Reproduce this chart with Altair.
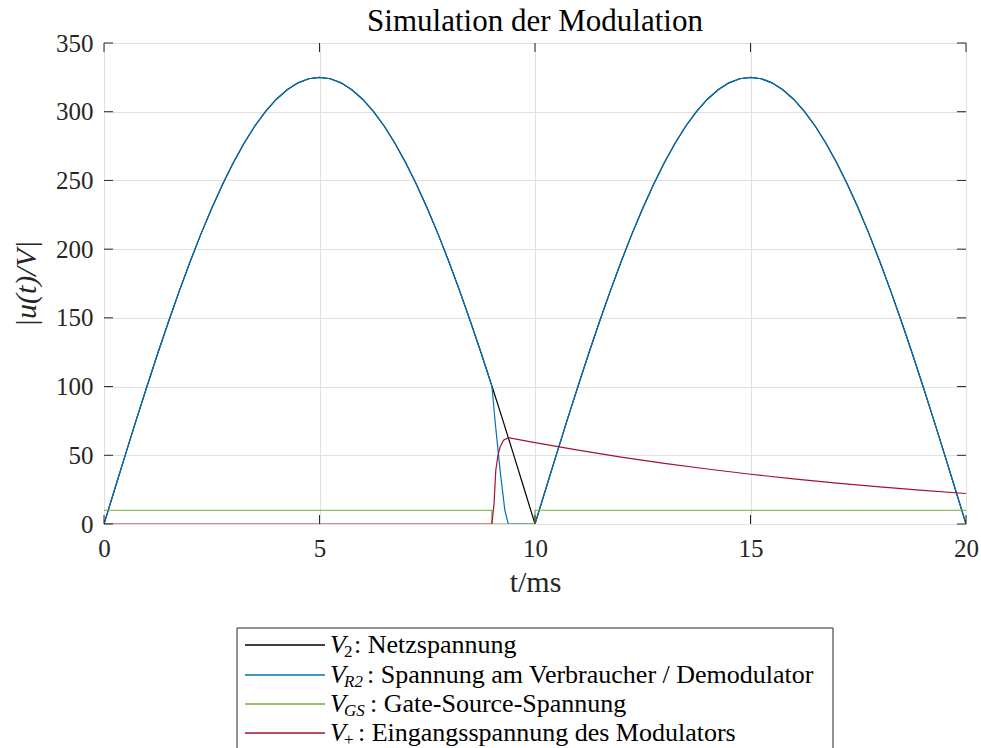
import altair as alt
import pandas as pd

# ---- data (time in ms, voltage in V) ----
t_grid = [0, 0.25, 0.5, 0.75, 1, 1.25, 1.5, 1.75, 2, 2.25, 2.5, 2.75, 3, 3.25, 3.5, 3.75,
          4, 4.25, 4.5, 4.75, 5, 5.25, 5.5, 5.75, 6, 6.25, 6.5, 6.75, 7, 7.25, 7.5, 7.75,
          8, 8.25, 8.5, 8.75, 9, 9.25, 9.5, 9.75, 10, 10.25, 10.5, 10.75, 11, 11.25, 11.5,
          11.75, 12, 12.25, 12.5, 12.75, 13, 13.25, 13.5, 13.75, 14, 14.25, 14.5, 14.75, 15,
          15.25, 15.5, 15.75, 16, 16.25, 16.5, 16.75, 17, 17.25, 17.5, 17.75, 18, 18.25,
          18.5, 18.75, 19, 19.25, 19.5, 19.75, 20]

# V2: mains voltage (rectified magnitude)
v2 = [0, 25.5, 50.8, 75.9, 100.4, 124.4, 147.5, 169.8, 191.0, 211.1, 229.8, 247.1, 262.9,
      277.1, 289.6, 300.3, 309.1, 316.0, 321.0, 324.0, 325.0, 324.0, 321.0, 316.0, 309.1,
      300.3, 289.6, 277.1, 262.9, 247.1, 229.8, 211.1, 191.0, 169.8, 147.5, 124.4, 100.4,
      75.9, 50.8, 25.5, 0, 25.5, 50.8, 75.9, 100.4, 124.4, 147.5, 169.8, 191.0, 211.1,
      229.8, 247.1, 262.9, 277.1, 289.6, 300.3, 309.1, 316.0, 321.0, 324.0, 325.0, 324.0,
      321.0, 316.0, 309.1, 300.3, 289.6, 277.1, 262.9, 247.1, 229.8, 211.1, 191.0, 169.8,
      147.5, 124.4, 100.4, 75.9, 50.8, 25.5, 0]

# VR2: load / demodulator voltage
t_r2 = [0, 0.25, 0.5, 0.75, 1, 1.25, 1.5, 1.75, 2, 2.25, 2.5, 2.75, 3, 3.25, 3.5, 3.75,
        4, 4.25, 4.5, 4.75, 5, 5.25, 5.5, 5.75, 6, 6.25, 6.5, 6.75, 7, 7.25, 7.5, 7.75,
        8, 8.25, 8.5, 8.75, 9, 9.07, 9.19, 9.3, 9.38, 10, 10.25, 10.5, 10.75, 11, 11.25,
        11.5, 11.75, 12, 12.25, 12.5, 12.75, 13, 13.25, 13.5, 13.75, 14, 14.25, 14.5,
        14.75, 15, 15.25, 15.5, 15.75, 16, 16.25, 16.5, 16.75, 17, 17.25, 17.5, 17.75,
        18, 18.25, 18.5, 18.75, 19, 19.25, 19.5, 19.75, 20]
v_r2 = [0, 25.5, 50.8, 75.9, 100.4, 124.4, 147.5, 169.8, 191.0, 211.1, 229.8, 247.1, 262.9,
        277.1, 289.6, 300.3, 309.1, 316.0, 321.0, 324.0, 325.0, 324.0, 321.0, 316.0, 309.1,
        300.3, 289.6, 277.1, 262.9, 247.1, 229.8, 211.1, 191.0, 169.8, 147.5, 124.4, 100.4,
        76, 39, 10, 0, 0, 25.5, 50.8, 75.9, 100.4, 124.4, 147.5, 169.8, 191.0, 211.1,
        229.8, 247.1, 262.9, 277.1, 289.6, 300.3, 309.1, 316.0, 321.0, 324.0, 325.0, 324.0,
        321.0, 316.0, 309.1, 300.3, 289.6, 277.1, 262.9, 247.1, 229.8, 211.1, 191.0, 169.8,
        147.5, 124.4, 100.4, 75.9, 50.8, 25.5, 0]

# VGS: gate-source voltage
t_gs = [0, 9.0, 9.0, 10.0, 10.0, 20]
v_gs = [10, 10, 0, 0, 10, 10]

# V+: modulator input voltage
t_plus = [0, 9.0, 9.05, 9.09, 9.14, 9.19, 9.27, 9.38, 10, 11, 12, 13, 14, 15, 16, 17, 18, 19, 20]
v_plus = [0, 0, 15, 39, 50, 56, 61, 62.8, 59.2, 53.7, 48.6, 44.1, 40.0, 36.2, 32.8, 29.8,
          27.0, 24.5, 22.2]

x_ticks = [0, 5, 10, 15, 20]
y_ticks = [0, 50, 100, 150, 200, 250, 300, 350]

legend_subs = ["2", "R2", "GS", "+"]
legend_texts = [": Netzspannung",
                ": Spannung am Verbraucher / Demodulator",
                ": Gate-Source-Spannung",
                ": Eingangsspannung des Modulators"]
colors = ["#000000", "#0072BD", "#77AC30", "#A2142F"]

# ---- layout ----
W, H = 862, 481
FONT = "Liberation Serif"
AX = "#262626"
GRID = "#e0e0e0"

xs = alt.Scale(domain=[0, 20], nice=False)
ys = alt.Scale(domain=[0, 350], nice=False)

x_axis = alt.Axis(values=x_ticks, title="t/ms", grid=True, gridColor=GRID, ticks=False,
                  domain=False, labelFont=FONT, labelFontSize=25, labelColor=AX,
                  labelPadding=12, titleFont=FONT, titleFontSize=30, titleFontWeight="normal",
                  titleColor=AX, titlePadding=6, labelFlush=False)
y_axis = alt.Axis(values=y_ticks, title="|u(t)/V|", grid=True, gridColor=GRID, ticks=False,
                  domain=False, labelFont=FONT, labelFontSize=25, labelColor=AX,
                  labelPadding=11, titleFont=FONT, titleFontSize=30, titleFontWeight="normal",
                  titleFontStyle="italic", titleColor=AX, titlePadding=14, labelFlush=False)


def series(ts, vs, color):
    df = pd.DataFrame({"t": ts, "v": vs, "i": range(len(ts))})
    return alt.Chart(df).mark_line(color=color, strokeWidth=1.2, clip=True).encode(
        x=alt.X("t:Q", scale=xs, axis=x_axis),
        y=alt.Y("v:Q", scale=ys, axis=y_axis),
        order=alt.Order("i:Q"),
    )


lines = [
    series(t_grid, v2, colors[0]),
    series(t_r2, v_r2, colors[1]),
    series(t_gs, v_gs, colors[2]),
    series(t_plus, v_plus, colors[3]),
]

# inward ticks on all four sides
xt = pd.DataFrame({"t": x_ticks})
yt = pd.DataFrame({"v": y_ticks})
tick_len = 9
ticks = [
    alt.Chart(xt).mark_rule(color=AX, strokeWidth=1).encode(
        x=alt.X("t:Q", scale=xs, axis=x_axis), y=alt.value(H), y2=alt.value(H - tick_len)),
    alt.Chart(xt).mark_rule(color=AX, strokeWidth=1).encode(
        x=alt.X("t:Q", scale=xs, axis=x_axis), y=alt.value(0), y2=alt.value(tick_len)),
    alt.Chart(yt).mark_rule(color=AX, strokeWidth=1).encode(
        y=alt.Y("v:Q", scale=ys, axis=y_axis), x=alt.value(0), x2=alt.value(tick_len)),
    alt.Chart(yt).mark_rule(color=AX, strokeWidth=1).encode(
        y=alt.Y("v:Q", scale=ys, axis=y_axis), x=alt.value(W), x2=alt.value(W - tick_len)),
]

# legend below the plot
one = pd.DataFrame({"k": [0]})
legend = [
    alt.Chart(one).mark_rect(fill="white", stroke=AX, strokeWidth=1).encode(
        x=alt.value(133), x2=alt.value(729), y=alt.value(585), y2=alt.value(707)),
]
row_y = [602, 632, 661, 690]
sym_x0, sym_x1 = 141, 221
v_x = 226
sub_x = 240
rest_x = [250, 263, 266, 254]
for k in range(4):
    yk = row_y[k]
    legend.append(alt.Chart(one).mark_rule(color=colors[k], strokeWidth=1.4).encode(
        x=alt.value(sym_x0), x2=alt.value(sym_x1), y=alt.value(yk)))
    legend.append(alt.Chart(pd.DataFrame({"s": ["V"]})).mark_text(
        font=FONT, fontSize=26, fontStyle="italic", align="left", baseline="alphabetic",
        color="black").encode(text="s:N", x=alt.value(v_x), y=alt.value(yk + 8)))
    sub_italic = legend_subs[k] in ("R2", "GS")
    legend.append(alt.Chart(pd.DataFrame({"s": [legend_subs[k]]})).mark_text(
        font=FONT, fontSize=17, fontStyle="italic" if sub_italic else "normal",
        align="left", baseline="alphabetic", color="black").encode(
        text="s:N", x=alt.value(sub_x), y=alt.value(yk + 12)))
    legend.append(alt.Chart(pd.DataFrame({"s": [legend_texts[k]]})).mark_text(
        font=FONT, fontSize=26, align="left", baseline="alphabetic", color="black").encode(
        text="s:N", x=alt.value(rest_x[k]), y=alt.value(yk + 8)))

chart = alt.layer(*lines, *ticks, *legend).properties(
    width=W, height=H,
    padding={"left": 104, "top": 43, "right": 15, "bottom": 240},
    autosize=alt.AutoSizeParams(type="none"),
    title=alt.TitleParams("Simulation der Modulation", font=FONT, fontSize=31,
                          fontWeight="normal", color="black", offset=6, dy=13),
).configure_view(stroke=AX, strokeWidth=1.2).configure(background="white")

chart.save("out.html", embed_options={"renderer": "svg", "actions": False})
